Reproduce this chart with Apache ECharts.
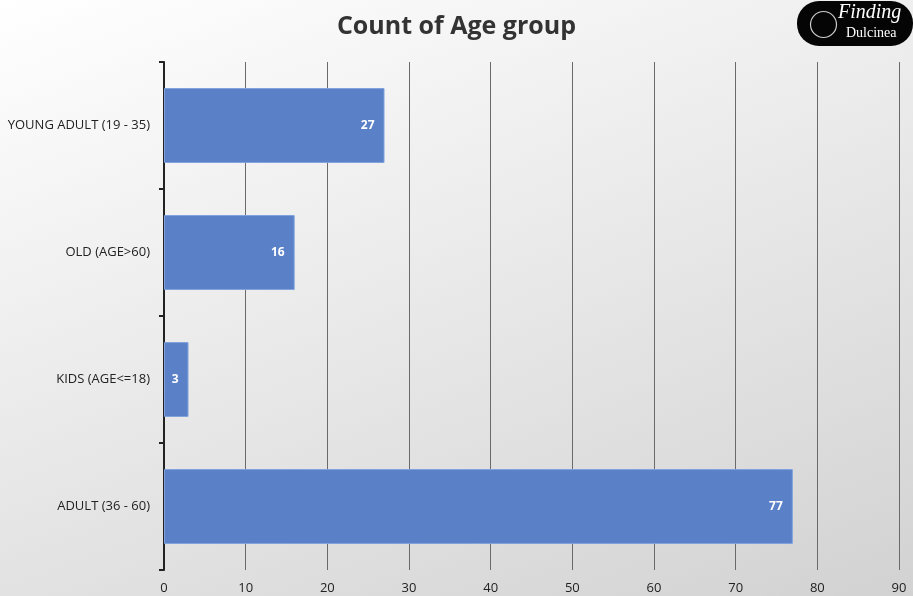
<!DOCTYPE html>
<html><head><meta charset="utf-8">
<script src="https://cdn.jsdelivr.net/npm/echarts@6/dist/echarts.min.js"></script>
<style>
html,body{margin:0;padding:0;}
#c{width:913px;height:596px;background:linear-gradient(160deg,#ffffff 0%,#ededed 40%,#d2d2d2 100%);}
</style></head><body>
<div id="c"></div>
<script>
const categories = ['ADULT (36 - 60)', 'KIDS (AGE<=18)', 'OLD (AGE>60)', 'YOUNG ADULT (19 - 35)'];
const counts = [77, 3, 16, 27];
const titleText = 'Count of Age group';

const chart = echarts.init(document.getElementById('c'), null, {renderer: 'canvas'});
chart.setOption({
  backgroundColor: 'transparent',
  animation: false,
  title: {
    text: titleText, left: 'center', top: 9,
    textStyle: {fontFamily: 'Open Sans', fontWeight: 'bold', fontSize: 25, color: '#333'}
  },
  grid: {left: 164, right: 14, top: 62, bottom: 26, containLabel: false},
  xAxis: {
    type: 'value', min: 0, max: 90, interval: 10,
    axisLine: {show: false}, axisTick: {show: false},
    splitLine: {show: true, lineStyle: {color: '#6a6a6a', width: 1}},
    axisLabel: {color: '#222', fontFamily: 'Open Sans', fontSize: 13, margin: 12}
  },
  yAxis: {
    type: 'category', data: categories,
    axisLine: {show: true, lineStyle: {color: '#222', width: 2}},
    axisTick: {show: true, length: 5, lineStyle: {color: '#222', width: 2}},
    axisLabel: {color: '#222', fontFamily: 'Open Sans', fontSize: 13, margin: 14}
  },
  series: [{
    type: 'bar', data: counts, barWidth: '59%',
    itemStyle: {color: '#5a81c7', borderColor: '#7fa2dd', borderWidth: 1},
    label: {show: true, position: 'insideRight', distance: 10, color: '#fff',
      fontWeight: 'bold', fontFamily: 'Open Sans', fontSize: 12}
  }],
  graphic: [
    {type: 'rect', left: 797, top: 1, shape: {width: 116, height: 45, r: 22}, style: {fill: '#050505'}},
    {type: 'circle', left: 808, top: 9, shape: {r: 13}, style: {fill: 'none', stroke: '#ccc', lineWidth: 1.2}},
    {type: 'text', left: 838, top: 3, style: {text: 'Finding', fill: '#fff', font: 'italic 20px "Liberation Serif"'}},
    {type: 'text', left: 846, top: 26, style: {text: 'Dulcinea', fill: '#fff', font: '14px "Liberation Serif"'}}
  ]
});
</script>
</body></html>
